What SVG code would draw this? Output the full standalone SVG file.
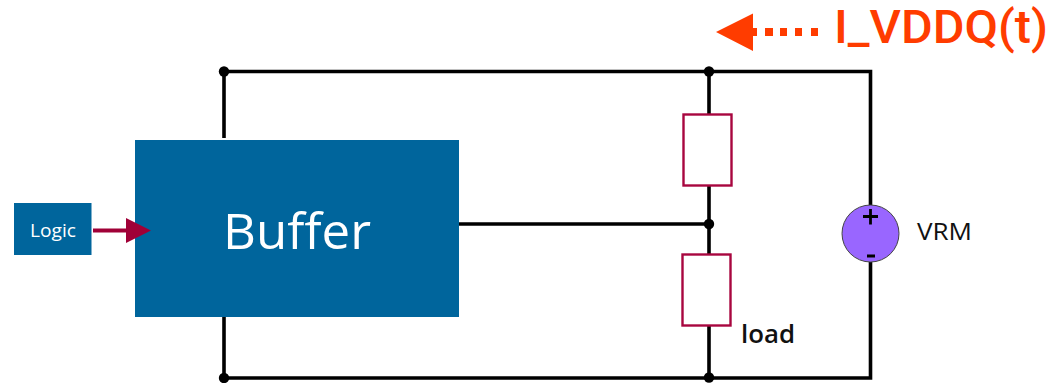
<svg xmlns="http://www.w3.org/2000/svg" width="1062" height="383" viewBox="0 0 1062 383">
<defs>
<style>
.wire{fill:none;stroke:#000;stroke-width:3.6}
.dot{fill:#000}
.res{fill:#fff;stroke:#a8063f;stroke-width:2.4}
.blue{fill:#00659c}
text{font-family:"Open Sans","DejaVu Sans",sans-serif}
</style>
</defs>
<rect width="1062" height="383" fill="#fff"/>
<g id="connectors">
<path class="wire" d="M224 138V71.500H870.500V205M870.500 262V378H224V317"/>
<path class="wire" d="M709 71.500V114M709 186V254M709 326V378"/>
<path class="wire" d="M459 224H709"/>
<circle class="dot" cx="224" cy="71.500" r="5.200"/>
<circle class="dot" cx="709" cy="71.500" r="5.200"/>
<circle class="dot" cx="709" cy="224" r="5.200"/>
<circle class="dot" cx="709" cy="377.500" r="5.200"/>
<circle class="dot" cx="224" cy="378" r="5.200"/>
</g>
<g id="current-indicator">
<path d="M716 32L753 13.500V28H757V36H753V51Z" fill="#ff3c00"/>
<path d="M765 28H773V36H765ZM780 28H787V36H780ZM795 28H802V36H795ZM811 28H818V36H811Z" fill="#ff3c00"/>
<text x="834" y="43" font-size="46" font-weight="500" fill="#ff3c00" textLength="214" lengthAdjust="spacingAndGlyphs" style="font-family:Roboto,'Liberation Sans',sans-serif">I_VDDQ(t)</text>
</g>
<g id="logic">
<rect class="blue" x="14" y="203" width="77.500" height="52"/>
<text x="53" y="236.500" font-size="17.500" fill="#fff" text-anchor="middle" textLength="46" lengthAdjust="spacingAndGlyphs">Logic</text>
</g>
<g id="buffer">
<rect class="blue" x="135" y="140" width="324" height="177"/>
<text x="297" y="249" font-size="50" fill="#fff" text-anchor="middle" textLength="148" lengthAdjust="spacingAndGlyphs">Buffer</text>
</g>
<g id="logic-arrow">
<path d="M93 228.500H126V218L151 230.500L126 243V232.500H93Z" fill="#a00037"/>
</g>
<g id="resistor-top">
<rect class="res" x="683.500" y="114.500" width="48" height="71"/>
</g>
<g id="resistor-load">
<rect class="res" x="682.500" y="254.500" width="48" height="71"/>
<text x="741" y="343" font-size="26" font-weight="600" fill="#111" textLength="54" lengthAdjust="spacingAndGlyphs">load</text>
</g>
<g id="vrm">
<circle cx="870.500" cy="233.500" r="28.500" fill="#9966ff" stroke="#444" stroke-width="1"/>
<path d="M870.500 209V224.500M863 216.500H878M867 256H875" fill="none" stroke="#000" stroke-width="2.800"/>
<text x="917" y="240" font-size="24" font-weight="500" fill="#111" textLength="55" lengthAdjust="spacingAndGlyphs">VRM</text>
</g>
</svg>
